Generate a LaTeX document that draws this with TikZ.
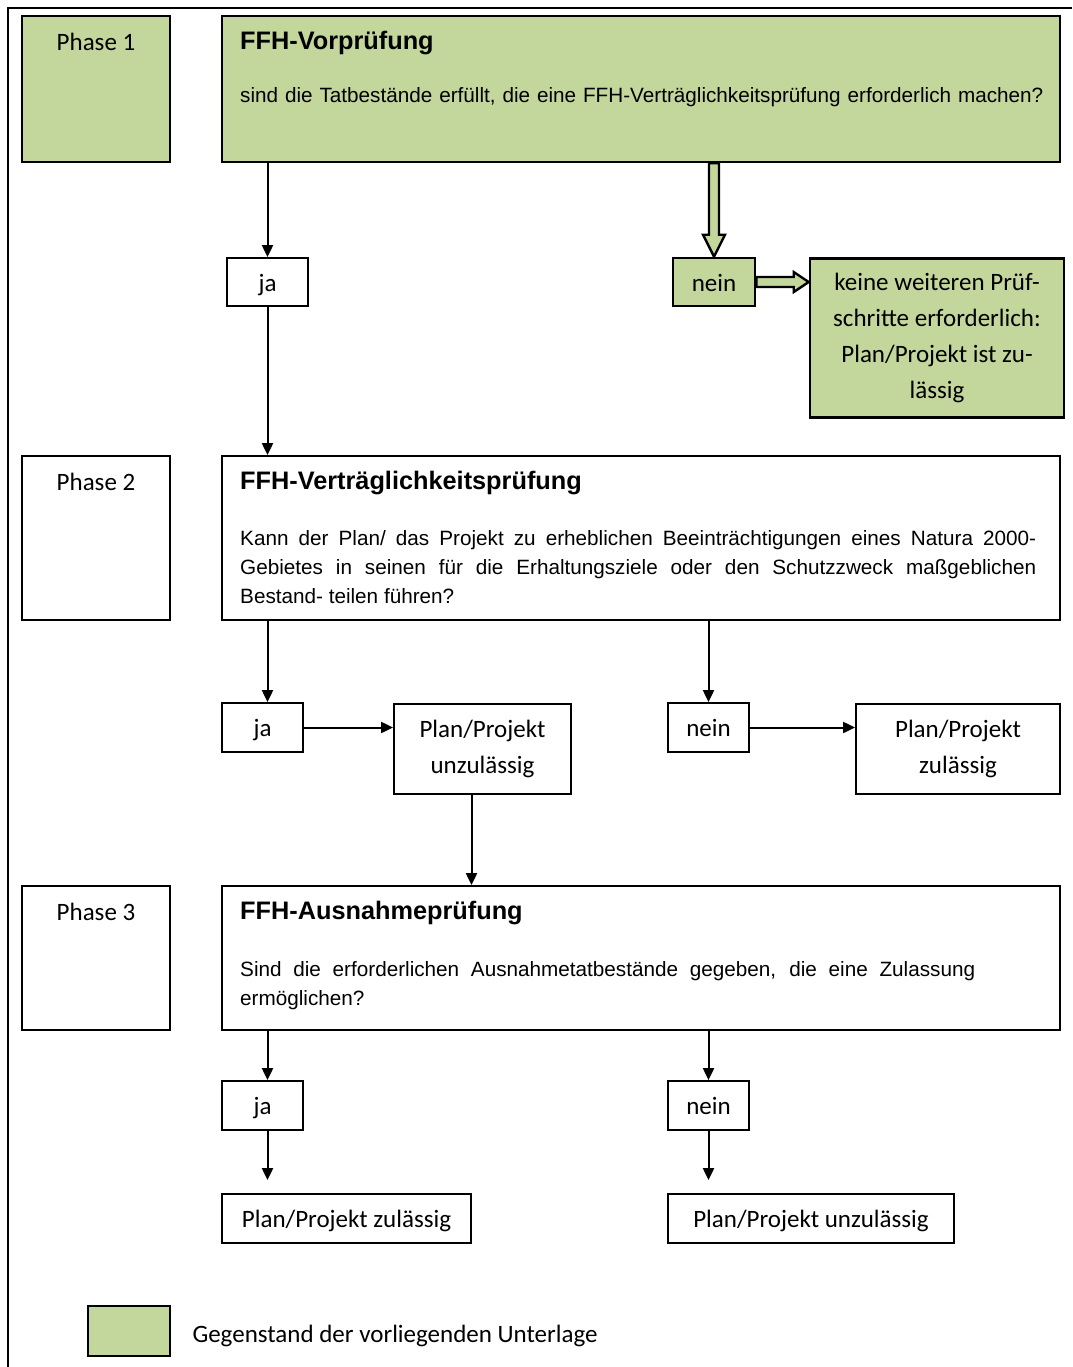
\documentclass[tikz,border=0pt]{standalone}
\usepackage{fontspec}
\setmainfont{Carlito}
\newfontfamily\arialfont{Liberation Sans}
\usetikzlibrary{arrows.meta, positioning, calc}
\definecolor{ffhgreen}{RGB}{195,214,155}
\hyphenpenalty=10000

\begin{document}
\begin{tikzpicture}[
    x=1pt, y=1pt,
    box/.style={draw, rectangle, line width=1.8pt, inner sep=0pt, fill=white, font=\fontsize{25}{36}\selectfont, align=center},
    greenbox/.style={box, fill=ffhgreen, line width=2.6pt},
    one line/.style={text height=20pt, text depth=2pt},
    phase text/.style={inner sep=0pt, font=\fontsize{25}{30}\selectfont},
    head text/.style={anchor=base west, inner sep=0pt, font=\arialfont\bfseries\fontsize{25.3}{30}\selectfont},
    body text/.style={anchor=north west, inner sep=0pt, text width=796pt, align=justify,
        font=\arialfont\fontsize{20.7}{29}\selectfont},
    arrow/.style={-{Triangle[length=12pt, width=11pt]}, line width=2pt},
    green arrow/.style={draw, line width=2.4pt, fill=ffhgreen, line join=miter}
]
\useasboundingbox (0,0) rectangle (1072,-1367);

% outer frame
\draw[line width=2.5pt] (1072,-8) -- (8,-8) -- (8,-1367);

% Phase 1
\node[greenbox, minimum width=148, minimum height=146] (ph1) at (96,-89) {};
\node[phase text] (ph1t) at (96,-42) {Phase 1};
\node[greenbox, minimum width=838, minimum height=146] (vor) at (641,-89) {};
\node[head text] (vorh) at (240,-50) {FFH-Vorprüfung};
\node[body text, text width=830pt, align=left] (vorb) at (240,-87) {sind die Tatbestände erfüllt, die eine FFH-Verträglichkeitsprüfung erforderlich machen?};

\node[box, one line, minimum width=81, minimum height=48] (ja1) at (267.5,-282) {ja};
\node[greenbox, one line, minimum width=82, minimum height=48] (nein1) at (714,-282) {nein};
\node[greenbox, minimum width=254, minimum height=159] (keine) at (937,-338)
    {keine weiteren Prüf-\\schritte erforderlich:\\Plan/Projekt ist zu-\\lässig};

% Phase 2
\node[box, minimum width=148, minimum height=164] (ph2) at (96,-538) {};
\node[phase text] (ph2t) at (96,-482) {Phase 2};
\node[box, minimum width=838, minimum height=164] (vert) at (641,-538) {};
\node[head text] (verth) at (240,-489) {FFH-Verträglichkeitsprüfung};
\node[body text] (vertb) at (240,-530)
    {Kann der Plan/ das Projekt zu erheblichen Beeinträchtigungen eines Natura 2000-\linebreak
     Gebietes in seinen für die Erhaltungsziele oder den Schutzzweck maßgeblichen\linebreak
     Bestand- teilen führen?};

\node[box, one line, minimum width=81, minimum height=49] (ja2) at (262.5,-727.5) {ja};
\node[box, minimum width=177, minimum height=90] (unz2) at (482.5,-749) {Plan/Projekt\\unzulässig};
\node[box, one line, minimum width=81, minimum height=49] (nein2) at (708.5,-727.5) {nein};
\node[box, minimum width=204, minimum height=90] (zul2) at (958,-749) {Plan/Projekt\\zulässig};

% Phase 3
\node[box, minimum width=148, minimum height=144] (ph3) at (96,-958) {};
\node[phase text] (ph3t) at (96,-912) {Phase 3};
\node[box, minimum width=838, minimum height=144] (aus) at (641,-958) {};
\node[head text] (aush) at (240,-919) {FFH-Ausnahmeprüfung};
\node[body text, text width=735pt] (ausb) at (240,-961)
    {Sind die erforderlichen Ausnahmetatbestände gegeben, die eine Zulassung\linebreak
     ermöglichen?};

\node[box, one line, minimum width=81, minimum height=49] (ja3) at (262.5,-1105.5) {ja};
\node[box, one line, minimum width=81, minimum height=49] (nein3) at (708.5,-1105.5) {nein};
\node[box, one line, minimum width=249, minimum height=49] (zul3) at (346.5,-1218.5) {Plan/Projekt zulässig};
\node[box, one line, minimum width=286, minimum height=49] (unz3) at (811,-1218.5) {Plan/Projekt unzulässig};

% Legend
\node[greenbox, minimum width=82, minimum height=50] (leg) at (129,-1331) {};
\node[phase text, one line, right=21pt of leg, yshift=-2pt] (legt) {Gegenstand der vorliegenden Unterlage};

% Edges
\draw[arrow] (vor.south -| ja1) -- (ja1.north);
\draw[arrow] (ja1.south) -- (ja1.south |- vert.north);

\coordinate (gv) at (vor.south -| nein1);
\draw[green arrow] ($(gv)+(-5,0)$) -- ($(nein1.north)+(-5,22)$) -- ($(nein1.north)+(-11,22)$)
    -- (nein1.north) -- ($(nein1.north)+(11,22)$) -- ($(nein1.north)+(5,22)$) -- ($(gv)+(5,0)$) -- cycle;
\coordinate (ge) at (nein1.east -| keine.west);
\draw[green arrow] ($(nein1.east)+(0,5)$) -- ($(ge)+(-15,5)$) -- ($(ge)+(-15,10)$)
    -- (ge) -- ($(ge)+(-15,-10)$) -- ($(ge)+(-15,-5)$) -- ($(nein1.east)+(0,-5)$) -- cycle;

\draw[arrow] (vert.south -| ja1) -- (ja2.north -| ja1);
\draw[arrow] (vert.south -| nein2) -- (nein2.north);
\draw[arrow] (ja2.east) -- (ja2.east -| unz2.west);
\draw[arrow] (nein2.east) -- (nein2.east -| zul2.west);

\coordinate (u2) at ([xshift=-11pt]unz2.south);
\draw[arrow] (u2) -- (u2 |- aus.north);

\draw[arrow] (aus.south -| ja1) -- (ja3.north -| ja1);
\draw[arrow] (aus.south -| nein3) -- (nein3.north);
\draw[arrow, shorten >=13pt] (ja3.south -| ja1) -- (zul3.north -| ja1);
\draw[arrow, shorten >=13pt] (nein3.south) -- (nein3.south |- unz3.north);

\end{tikzpicture}
\end{document}
